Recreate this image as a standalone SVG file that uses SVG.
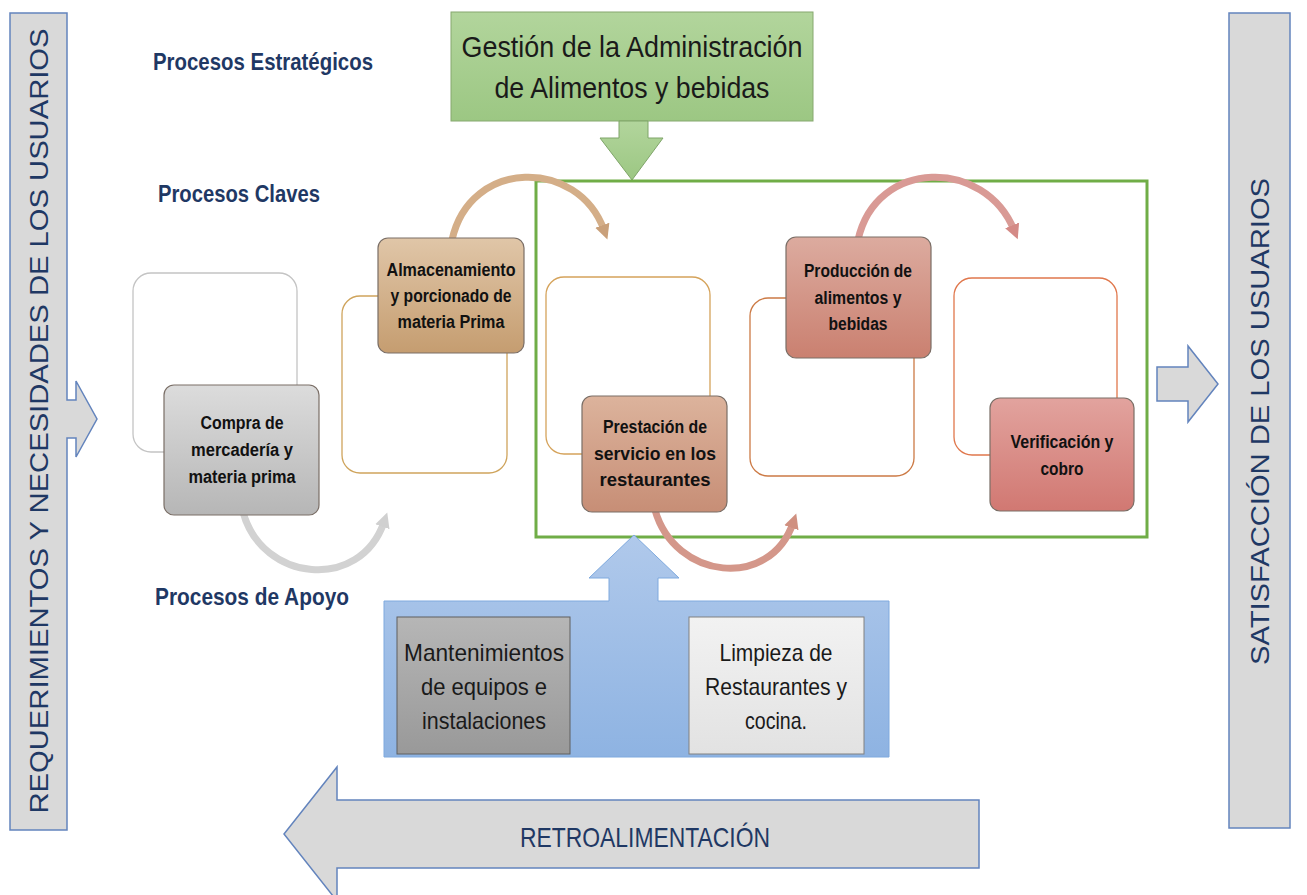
<svg xmlns="http://www.w3.org/2000/svg" width="1307" height="895" viewBox="0 0 1307 895">
<defs>
<style>
.bar{fill:#d9d9d9;stroke:#6384bd;stroke-width:1.5}
.vt{font-family:"Liberation Sans",Arial,sans-serif;font-size:26px;fill:#1f3864;text-anchor:middle}
.ttl{font-family:"Liberation Sans",Arial,sans-serif;font-size:24px;font-weight:bold;fill:#1f3864}
.nt{font-family:"Liberation Sans",Arial,sans-serif;font-size:17.5px;font-weight:bold;fill:#111;text-anchor:middle}
.st{font-family:"Liberation Sans",Arial,sans-serif;font-size:24px;fill:#1a1a1a;text-anchor:middle}
.gt{font-family:"Liberation Sans",Arial,sans-serif;font-size:29px;fill:#1a1a1a;text-anchor:middle}
.back{fill:#fff;stroke-width:1.3}
.front{stroke:#7a6e66;stroke-width:1.2}
.cv{fill:none;stroke-width:7}
</style>
<linearGradient id="gGreen" x1="0" y1="0" x2="0" y2="1"><stop offset="0" stop-color="#b2d59c"/><stop offset="1" stop-color="#9cc783"/></linearGradient>
<linearGradient id="gBlue" x1="0" y1="0" x2="0" y2="1"><stop offset="0" stop-color="#b0c9eb"/><stop offset="1" stop-color="#8eb3e2"/></linearGradient>
<linearGradient id="gGray" x1="0" y1="0" x2="0" y2="1"><stop offset="0" stop-color="#dcdcdc"/><stop offset="1" stop-color="#b6b6b6"/></linearGradient>
<linearGradient id="gTan" x1="0" y1="0" x2="0" y2="1"><stop offset="0" stop-color="#e0c6a8"/><stop offset="1" stop-color="#c59d70"/></linearGradient>
<linearGradient id="gSal" x1="0" y1="0" x2="0" y2="1"><stop offset="0" stop-color="#dcb39c"/><stop offset="1" stop-color="#c78e76"/></linearGradient>
<linearGradient id="gRose" x1="0" y1="0" x2="0" y2="1"><stop offset="0" stop-color="#dcab9f"/><stop offset="1" stop-color="#ca8070"/></linearGradient>
<linearGradient id="gPink" x1="0" y1="0" x2="0" y2="1"><stop offset="0" stop-color="#e2a39e"/><stop offset="1" stop-color="#d17872"/></linearGradient>
<linearGradient id="gDark" x1="0" y1="0" x2="0" y2="1"><stop offset="0" stop-color="#b6b6b6"/><stop offset="1" stop-color="#999"/></linearGradient>
<linearGradient id="gLight" x1="0" y1="0" x2="0" y2="1"><stop offset="0" stop-color="#f2f2f2"/><stop offset="1" stop-color="#e2e2e2"/></linearGradient>
<marker id="mGray" markerUnits="userSpaceOnUse" markerWidth="20" markerHeight="20" refX="4" refY="8" orient="auto" viewBox="0 0 16 16"><path d="M0,2 L12,8 L0,14 Z" fill="#d0d0d0"/></marker>
<marker id="mTan" markerUnits="userSpaceOnUse" markerWidth="20" markerHeight="20" refX="4" refY="8" orient="auto" viewBox="0 0 16 16"><path d="M0,2 L12,8 L0,14 Z" fill="#c9a07a"/></marker>
<marker id="mSal" markerUnits="userSpaceOnUse" markerWidth="20" markerHeight="20" refX="4" refY="8" orient="auto" viewBox="0 0 16 16"><path d="M0,2 L12,8 L0,14 Z" fill="#d09080"/></marker>
<marker id="mPink" markerUnits="userSpaceOnUse" markerWidth="20" markerHeight="20" refX="4" refY="8" orient="auto" viewBox="0 0 16 16"><path d="M0,2 L12,8 L0,14 Z" fill="#d48a86"/></marker>
</defs>
<rect width="1307" height="895" fill="#fff"/>

<g id="input-bar">
<path class="bar" d="M10,13 L67,13 L67,400 L76,400 L76,381 L97,419 L76,457 L76,438 L67,438 L67,830 L10,830 Z"/>
<text class="vt" transform="translate(38.5,421) rotate(-90)" y="9" textLength="785" lengthAdjust="spacingAndGlyphs">REQUERIMIENTOS Y NECESIDADES DE LOS USUARIOS</text>
</g>

<g id="output-arrow">
<path class="bar" d="M1157,367 L1188,367 L1188,346 L1218,384 L1188,422 L1188,401 L1157,401 Z"/>
</g>

<g id="output-bar">
<rect class="bar" x="1229" y="13" width="61" height="815"/>
<text class="vt" transform="translate(1259.5,421.5) rotate(-90)" y="9" textLength="487" lengthAdjust="spacingAndGlyphs">SATISFACCIÓN DE LOS USUARIOS</text>
</g>

<g id="titles">
<text class="ttl" x="153" y="70" textLength="220" lengthAdjust="spacingAndGlyphs">Procesos Estratégicos</text>
<text class="ttl" x="158" y="202" textLength="162" lengthAdjust="spacingAndGlyphs">Procesos Claves</text>
<text class="ttl" x="155" y="605" textLength="194" lengthAdjust="spacingAndGlyphs">Procesos de Apoyo</text>
</g>

<g id="strategic">
<rect x="451" y="12" width="362" height="109" fill="url(#gGreen)" stroke="#86a86f" stroke-width="1"/>
<text class="gt" x="632" y="57" textLength="341" lengthAdjust="spacingAndGlyphs">Gestión de la Administración</text>
<text class="gt" x="632" y="98" textLength="275" lengthAdjust="spacingAndGlyphs">de Alimentos y bebidas</text>
<path d="M619,121 L648,121 L648,138 L663,138 L632,180 L600,138 L619,138 Z" fill="url(#gGreen)" stroke="#7fa569" stroke-width="1"/>
</g>

<g id="key-frame">
<rect x="536" y="181" width="611" height="356" fill="none" stroke="#70ad47" stroke-width="3"/>
</g>

<g id="support">
<path d="M384,601 L609,601 L609,578 L589,578 L634,535 L679,578 L658,578 L658,601 L889,601 L889,757 L384,757 Z" fill="url(#gBlue)" stroke="#7ea9de" stroke-width="1"/>
<g id="mantenimiento">
<rect x="397" y="617" width="173" height="137" fill="url(#gDark)" stroke="#5f5f5f" stroke-width="1"/>
<text class="st" x="484" y="661" textLength="160" lengthAdjust="spacingAndGlyphs">Mantenimientos</text>
<text class="st" x="484" y="695" textLength="126" lengthAdjust="spacingAndGlyphs">de equipos e</text>
<text class="st" x="484" y="729" textLength="124" lengthAdjust="spacingAndGlyphs">instalaciones</text>
</g>
<g id="limpieza">
<rect x="689" y="617" width="175" height="137" fill="url(#gLight)" stroke="#808080" stroke-width="1"/>
<text class="st" x="776" y="661" textLength="113" lengthAdjust="spacingAndGlyphs">Limpieza de</text>
<text class="st" x="776" y="695" textLength="142" lengthAdjust="spacingAndGlyphs">Restaurantes y</text>
<text class="st" x="776" y="729" textLength="62" lengthAdjust="spacingAndGlyphs">cocina.</text>
</g>
</g>

<g id="connectors">
<path class="cv" stroke="#d2d2d2" d="M243,512 C262,582 360,592 384,522" marker-end="url(#mGray)"/>
<path class="cv" stroke="#d4ae88" d="M452,240 C470,158 578,158 604,230" marker-end="url(#mTan)"/>
<path class="cv" stroke="#d4978a" d="M655,510 C675,580 770,590 793,523" marker-end="url(#mSal)"/>
<path class="cv" stroke="#d99a95" d="M858,240 C876,158 985,158 1014,230" marker-end="url(#mPink)"/>
</g>

<g id="node-compra">
<rect class="back" x="133" y="273" width="164" height="179" rx="18" stroke="#c4c4c4"/>
<rect class="front" x="164" y="385" width="155" height="130" rx="10" fill="url(#gGray)"/>
<text class="nt" x="242" y="429" textLength="83" lengthAdjust="spacingAndGlyphs">Compra de</text>
<text class="nt" x="242" y="456" textLength="102" lengthAdjust="spacingAndGlyphs">mercadería y</text>
<text class="nt" x="242" y="483" textLength="107" lengthAdjust="spacingAndGlyphs">materia prima</text>
</g>

<g id="node-almacenamiento">
<rect class="back" x="342" y="296" width="165" height="177" rx="18" stroke="#cfa45c"/>
<rect class="front" x="378" y="238" width="146" height="115" rx="10" fill="url(#gTan)"/>
<text class="nt" x="451" y="276" textLength="129" lengthAdjust="spacingAndGlyphs">Almacenamiento</text>
<text class="nt" x="451" y="302" textLength="121" lengthAdjust="spacingAndGlyphs">y porcionado de</text>
<text class="nt" x="451" y="328" textLength="107" lengthAdjust="spacingAndGlyphs">materia Prima</text>
</g>

<g id="node-prestacion">
<rect class="back" x="546" y="277" width="164" height="177" rx="18" stroke="#d5a35b"/>
<rect class="front" x="582" y="396" width="145" height="116" rx="10" fill="url(#gSal)"/>
<text class="nt" x="655" y="433" textLength="104" lengthAdjust="spacingAndGlyphs">Prestación de</text>
<text class="nt" x="655" y="460" textLength="122" lengthAdjust="spacingAndGlyphs">servicio en los</text>
<text class="nt" x="655" y="486" textLength="111" lengthAdjust="spacingAndGlyphs">restaurantes</text>
</g>

<g id="node-produccion">
<rect class="back" x="750" y="298" width="164" height="178" rx="18" stroke="#cc7a45"/>
<rect class="front" x="786" y="237" width="145" height="121" rx="10" fill="url(#gRose)"/>
<text class="nt" x="858" y="277" textLength="108" lengthAdjust="spacingAndGlyphs">Producción de</text>
<text class="nt" x="858" y="304" textLength="87" lengthAdjust="spacingAndGlyphs">alimentos y</text>
<text class="nt" x="858" y="330" textLength="59" lengthAdjust="spacingAndGlyphs">bebidas</text>
</g>

<g id="node-verificacion">
<rect class="back" x="954" y="278" width="163" height="177" rx="18" stroke="#e0774c"/>
<rect class="front" x="990" y="398" width="144" height="113" rx="10" fill="url(#gPink)"/>
<text class="nt" x="1062" y="448" textLength="103" lengthAdjust="spacingAndGlyphs">Verificación y</text>
<text class="nt" x="1062" y="475" textLength="43" lengthAdjust="spacingAndGlyphs">cobro</text>
</g>

<g id="retroalimentacion">
<path class="bar" d="M979,800 L337,800 L337,767 L284,834 L337,901 L337,868 L979,868 Z"/>
<text x="645" y="847" font-family="Liberation Sans, Arial, sans-serif" font-size="28" fill="#1f3864" text-anchor="middle" textLength="250" lengthAdjust="spacingAndGlyphs">RETROALIMENTACIÓN</text>
</g>
</svg>
